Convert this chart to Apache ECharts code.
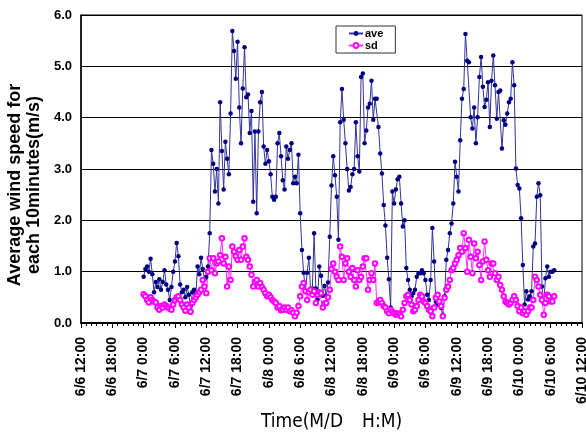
<!DOCTYPE html>
<html>
<head>
<meta charset="utf-8">
<script src="https://cdn.jsdelivr.net/npm/echarts@6/dist/echarts.min.js"></script>
<style>
  html, body { margin: 0; padding: 0; background: #fff; }
  #chart { width: 586px; height: 434px; }
</style>
</head>
<body>
<div id="chart"></div>
<script>
// x axis: hours since 6/6 12:00, one label every 6 hours
var xLabels = ['6/6 12:00', '6/6 18:00', '6/7 0:00', '6/7 6:00', '6/7 12:00', '6/7 18:00',
  '6/8 0:00', '6/8 6:00', '6/8 12:00', '6/8 18:00', '6/9 0:00', '6/9 6:00',
  '6/9 12:00', '6/9 18:00', '6/10 0:00', '6/10 6:00', '6/10 12:00'];
var yTicks = [0, 1, 2, 3, 4, 5, 6];

// samples start at 6/7 0:00 (hour 12), one every 20 minutes
var startHour = 12;
var stepHour = 1 / 3;

// average wind speed (m/s)
var ave = [
  0.9, 1.05, 1.1, 1.0, 1.25, 0.95, 0.6, 0.8, 0.7, 0.85, 0.65, 0.8,
  1.03, 0.75, 0.65, 0.45, 0.7, 1.0, 1.2, 1.56, 1.3, 0.75, 0.6, 0.65,
  0.5, 0.7, 0.55, 0.32, 0.6, 0.65, 0.55, 1.1, 0.95, 1.27, 1.05, 0.85,
  0.9, 1.1, 1.75, 3.37, 3.1, 2.56, 3.0, 2.33, 4.3, 3.35, 2.6, 3.53,
  3.2, 2.9, 4.08, 5.69, 5.3, 4.76, 5.48, 4.2, 3.5, 4.57, 5.37, 4.4,
  4.45, 3.7, 4.13, 2.36, 3.73, 2.14, 3.73, 4.3, 4.5, 3.44, 3.1, 3.37,
  3.15, 2.9, 2.46, 2.4, 2.46, 3.5, 3.7, 3.25, 2.78, 2.6, 3.44, 3.2,
  3.37, 3.5, 2.72, 2.85, 2.72, 3.28, 2.14, 1.42, 0.98, 0.62, 0.98, 1.27,
  0.6, 0.67, 1.75, 0.67, 0.46, 1.1, 0.92, 0.53, 0.72, 0.53, 0.79, 1.68,
  2.68, 3.25, 2.88, 2.46, 1.62, 3.91, 4.56, 3.96, 3.5, 3.0, 2.58, 2.65,
  2.9, 3.0, 3.91, 3.25, 2.95, 4.79, 4.86, 3.5, 3.75, 4.2, 4.27, 4.72,
  3.96, 4.37, 4.37, 3.82, 3.3, 2.91, 2.3, 1.9, 1.27, 0.85, 0.3, 2.56,
  2.33, 2.6, 2.8, 2.85, 2.33, 1.88, 2.0, 1.07, 0.84, 0.65, 0.52, 0.58,
  0.65, 0.9, 0.97, 0.97, 1.03, 0.97, 0.84, 0.55, 0.45, 0.84, 1.85, 1.2,
  0.42, 0.36, 0.42, 0.29, 0.16, 0.52, 1.23, 1.42, 1.75, 1.94, 2.33, 3.14,
  2.85, 2.56, 3.56, 4.37, 4.56, 5.63, 5.11, 5.08, 4.01, 3.79, 4.2, 3.5,
  4.01, 4.79, 5.18, 4.6, 4.21, 4.35, 4.69, 3.82, 4.72, 5.21, 4.63, 3.98,
  4.5, 4.53, 3.4, 3.95, 3.86, 4.08, 4.3, 4.37, 5.08, 4.63, 3.01, 2.69,
  2.62, 2.04, 1.13, 0.36, 0.62, 0.46, 0.52, 0.62, 1.49, 1.55, 2.46, 2.72,
  2.49, 0.71, 0.39, 0.87, 1.1, 0.9, 1.0, 1.0, 1.03
];

// standard deviation (m/s)
var sd = [
  0.56, 0.52, 0.45, 0.4, 0.5, 0.45, 0.42, 0.4, 0.3, 0.26, 0.33, 0.3,
  0.36, 0.33, 0.3, 0.28, 0.26, 0.36, 0.45, 0.5, 0.52, 0.45, 0.36, 0.3,
  0.24, 0.36, 0.3, 0.22, 0.39, 0.45, 0.5, 0.55, 0.6, 0.65, 0.84, 0.71,
  0.58, 1.0, 1.26, 1.03, 1.26, 0.97, 1.16, 1.2, 1.32, 1.65, 1.16, 1.29,
  0.71, 1.1, 0.84, 1.49, 1.39, 1.3, 1.23, 1.42, 1.23, 1.49, 1.65, 1.29,
  1.23, 1.1, 0.94, 0.71, 0.8, 0.84, 0.71, 0.78, 0.7, 0.65, 0.58, 0.52,
  0.55, 0.5, 0.45, 0.42, 0.39, 0.3, 0.33, 0.25, 0.26, 0.3, 0.26, 0.3,
  0.23, 0.25, 0.2, 0.13, 0.2, 0.33, 0.52, 0.71, 0.78, 0.62, 0.45, 0.6,
  0.65, 0.55, 0.62, 0.39, 0.55, 0.6, 0.58, 0.3, 0.38, 0.39, 0.5, 0.65,
  1.05, 1.16, 1.0, 0.9, 0.84, 1.49, 1.29, 0.84, 1.16, 1.26, 1.0, 0.9,
  1.07, 0.84, 0.71, 1.03, 0.84, 0.9, 1.1, 1.26, 1.26, 0.65, 0.84, 0.97,
  0.84, 1.16, 0.39, 0.42, 0.45, 0.39, 0.33, 0.3, 0.23, 0.19, 0.26, 0.22,
  0.19, 0.16, 0.19, 0.16, 0.13, 0.26, 0.39, 0.52, 0.55, 0.45, 0.36, 0.23,
  0.26, 0.33, 0.45, 0.55, 0.52, 0.42, 0.39, 0.33, 0.26, 0.23, 0.13, 0.3,
  0.49, 0.55, 0.42, 0.33, 0.13, 0.49, 0.65, 0.71, 0.84, 1.03, 1.07, 1.16,
  1.23, 1.32, 1.46, 1.39, 1.75, 1.46, 1.0, 1.62, 1.29, 0.97, 1.55, 1.26,
  1.39, 1.13, 0.84, 1.2, 1.59, 1.23, 1.03, 0.9, 1.16, 1.16, 0.97, 0.84,
  0.9, 0.74, 0.65, 0.52, 0.42, 0.39, 0.36, 0.39, 0.45, 0.52, 0.45, 0.33,
  0.23, 0.3, 0.19, 0.23, 0.16, 0.23, 0.3, 0.3, 0.45, 0.9, 0.84, 0.71,
  0.55, 0.45, 0.16, 0.39, 0.55, 0.52, 0.42, 0.42, 0.52
];

function toPairs(arr) {
  return arr.map(function (v, i) { return [startHour + i * stepHour, v]; });
}

var chart = echarts.init(document.getElementById('chart'), null, { renderer: 'canvas' });

var font = 'Arial, "Liberation Sans", sans-serif';

var option = {
  backgroundColor: '#fff',
  animation: false,
  grid: {
    left: 81, right: 4, top: 15, bottom: 111,
    containLabel: false,
    outerBoundsMode: 'none',
    show: true, borderColor: '#000', borderWidth: 1
  },
  legend: {
    orient: 'vertical',
    left: 336, top: 26,
    data: ['ave', 'sd'],
    itemWidth: 14, itemHeight: 6, itemGap: 1,
    padding: [2, 12, 2, 12],
    borderColor: '#333', borderWidth: 1,
    textStyle: { fontFamily: font, fontWeight: 'bold', fontSize: 11, color: '#000', padding: [0, 0, 0, -3] }
  },
  xAxis: {
    type: 'value',
    min: 0, max: 96, interval: 6,
    name: 'Time(M/D\u3000H:M)',
    nameLocation: 'middle',
    nameGap: 90,
    nameTextStyle: { fontFamily: '"Liberation Sans Narrow", "DejaVu Sans Condensed", sans-serif', fontSize: 19, color: '#000' },
    axisLine: { show: true, onZero: false, lineStyle: { color: '#000', width: 2 } },
    axisTick: { show: true, length: 5, lineStyle: { color: '#000', width: 1 } },
    minorTick: { show: true, splitNumber: 6, length: 3, lineStyle: { color: '#000', width: 1 } },
    splitLine: { show: false },
    axisLabel: {
      rotate: 90, margin: 14, showMaxLabel: true, showMinLabel: true, hideOverlap: false,
      fontFamily: font, fontWeight: 'bold', fontSize: 14, color: '#000',
      formatter: function (v) { return xLabels[Math.round(v / 6)]; }
    }
  },
  yAxis: {
    type: 'value',
    min: yTicks[0], max: yTicks[yTicks.length - 1], interval: 1,
    name: 'Average wind speed for\neach 10minutes(m/s)',
    nameLocation: 'middle',
    nameRotate: 90,
    nameGap: 34,
    nameTextStyle: {
      fontFamily: font, fontWeight: 'bold', fontSize: 18, color: '#000', lineHeight: 18.5,
      padding: [0, 32, 0, 0]
    },
    axisLine: { show: true, lineStyle: { color: '#000', width: 1.5 } },
    axisTick: { show: false },
    splitLine: { show: true, lineStyle: { color: '#000', width: 1 } },
    axisLabel: {
      margin: 9,
      fontFamily: font, fontWeight: 'bold', fontSize: 13, color: '#000',
      formatter: function (v) { return v.toFixed(1); }
    }
  },
  series: [
    {
      name: 'ave',
      type: 'line',
      data: toPairs(ave),
      symbol: 'circle',
      symbolSize: 4.5,
      itemStyle: { color: '#000080' },
      lineStyle: { color: '#34349a', width: 1 }
    },
    {
      name: 'sd',
      type: 'line',
      data: toPairs(sd),
      symbol: 'emptyCircle',
      symbolSize: 4.5,
      itemStyle: { color: '#ff00ff', borderColor: '#ff00ff', borderWidth: 1 },
      lineStyle: { color: '#ff33ff', width: 1 }
    }
  ]
};

chart.setOption(option);
</script>
</body>
</html>
